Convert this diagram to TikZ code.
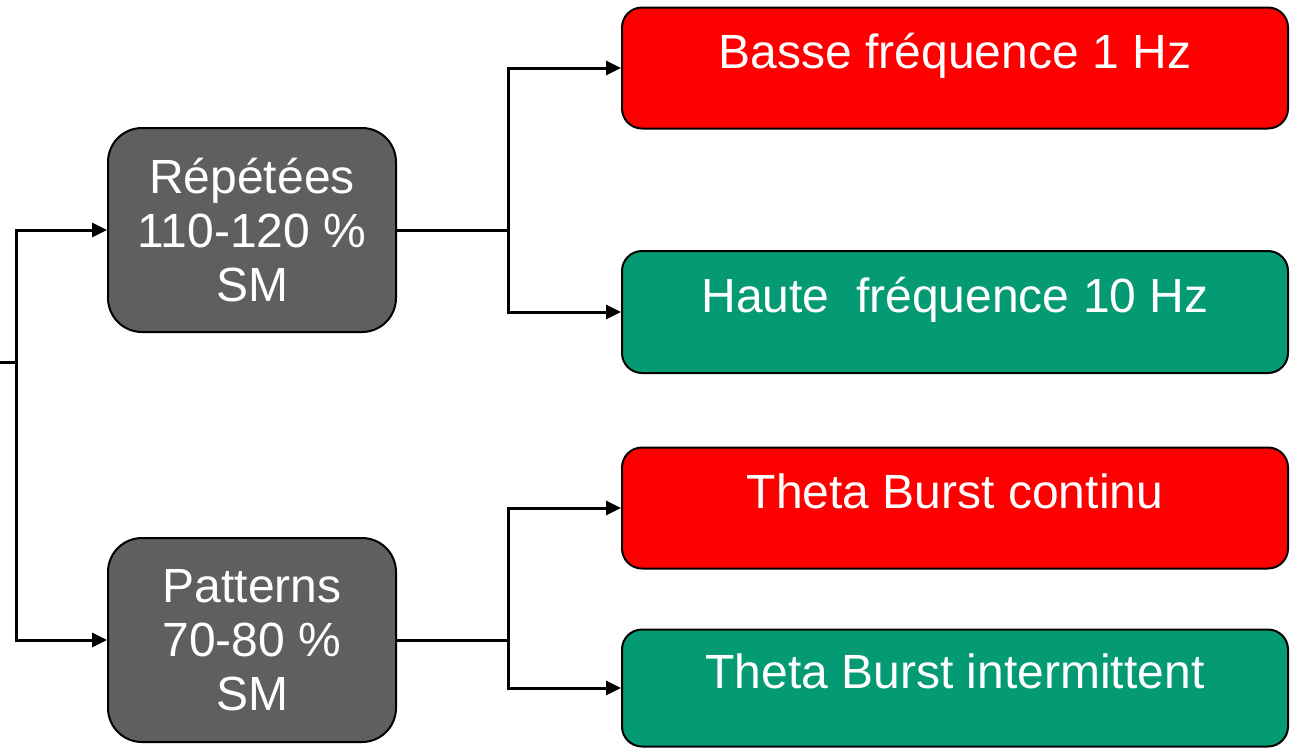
\documentclass[tikz,border=0pt]{standalone}
\usepackage{fontspec}
\setmainfont{Liberation Sans}
\usetikzlibrary{arrows.meta}
\definecolor{boxgray}{HTML}{5F5F5F}
\definecolor{boxred}{HTML}{FF0000}
\definecolor{boxgreen}{HTML}{039A74}
\tikzset{
  base/.style={draw=black, line width=2pt, text=white,
    font=\fontsize{48}{54}\selectfont, align=center, inner sep=0pt},
  levelbox/.style={base, fill=boxgray, rounded corners=34pt,
    minimum width=288pt, minimum height=204pt},
  freqbox/.style={base, rounded corners=20pt, minimum width=666pt,
    text height=34pt, text depth=34pt},
  conn/.style={line width=3pt, line join=miter},
  arr/.style={conn, -{Triangle[length=15pt,width=14pt]}}
}
\begin{document}
\begin{tikzpicture}[x=1pt, y=-1pt]
\useasboundingbox (0,0) rectangle (1300,748);

% intensity levels
\node[levelbox] (rep) at (252,230) {Répétées\\110-120 \%\\SM};
\node[levelbox] (pat) at (252,640) {Patterns\\70-80 \%\\SM};

% stimulation protocols
\node[freqbox, fill=boxred,   minimum height=121pt] (bf)  at (955,68)  {Basse fréquence 1 Hz};
\node[freqbox, fill=boxgreen, minimum height=122pt] (hf)  at (955,312) {Haute~~fréquence 10 Hz};
\node[freqbox, fill=boxred,   minimum height=121pt] (tbc) at (955,508) {Theta Burst continu};
\node[freqbox, fill=boxgreen, minimum height=117pt] (tbi) at (955,688) {Theta Burst intermittent};

% incoming branch on the left
\coordinate (in) at (0,362);
\coordinate (split) at (16,362);
\draw[conn] (in) -- (split);
\draw[arr] (split) |- (rep.west);
\draw[arr] (split) |- (pat.west);

% branches to the protocols
\coordinate (repj) at (508,230);
\coordinate (patj) at (508,640);
\draw[conn] (rep.east) -- (repj);
\draw[arr] (repj) |- (bf.west);
\draw[arr] (repj) |- (hf.west);
\draw[conn] (pat.east) -- (patj);
\draw[arr] (patj) |- (tbc.west);
\draw[arr] (patj) |- (tbi.west);
\end{tikzpicture}
\end{document}
